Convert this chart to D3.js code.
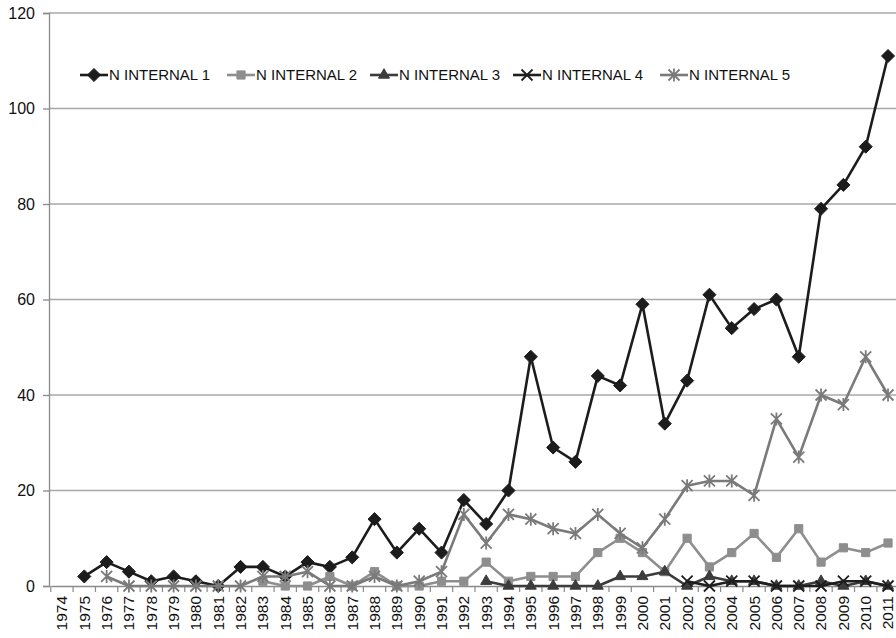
<!DOCTYPE html>
<html>
<head>
<meta charset="utf-8">
<script src="https://cdn.jsdelivr.net/npm/d3@7"></script>
<style>
  body { margin: 0; background: #fff; }
  svg { display: block; font-family: "Liberation Sans", Arial, sans-serif; }
</style>
</head>
<body>
<div id="chart"></div>
<script>
const years = d3.range(1974, 2012).map(String)

// values per year, 1974..2011 (null = no point)
const internal1 = [null, 2, 5, 3, 1, 2, 1, 0, 4, 4, 2, 5, 4, 6, 14, 7, 12, 7, 18, 13, 20, 48, 29, 26, 44, 42, 59, 34, 43, 61, 54, 58, 60, 48, 79, 84, 92, 111]
const internal2 = [null, null, null, null, null, null, null, null, null, 1, 0, 0, 2, 0, 3, 0, 0, 1, 1, 5, 1, 2, 2, 2, 7, 10, 7, 3, 10, 4, 7, 11, 6, 12, 5, 8, 7, 9]
const internal3 = [null, null, null, null, null, null, null, null, null, null, null, null, null, null, null, null, null, null, null, 1, 0, 0, 0, 0, 0, 2, 2, 3, 0, 2, 1, 1, 0, 0, 1, 0, 1, 0]
const internal4 = [null, null, null, null, null, null, null, null, null, null, null, null, null, null, null, null, null, null, null, null, null, null, null, null, null, null, null, null, 1, 0, 1, 1, 0, 0, 0, 1, 1, 0]
const internal5 = [null, null, 2, 0, 0, 0, 0, 0, 0, 2, 2, 3, 0, 0, 2, 0, 1, 3, 15, 9, 15, 14, 12, 11, 15, 11, 8, 14, 21, 22, 22, 19, 35, 27, 40, 38, 48, 40]

const seriesNames = ["N INTERNAL 1", "N INTERNAL 2", "N INTERNAL 3", "N INTERNAL 4", "N INTERNAL 5"]
const yTicks = [0, 20, 40, 60, 80, 100, 120]

const width = 896
const height = 638

const series = [
    {name: seriesNames[0], values: internal1, color: "#1c1c1c", marker: "diamond"},
    {name: seriesNames[1], values: internal2, color: "#8e8e8e", marker: "square"},
    {name: seriesNames[2], values: internal3, color: "#3c3c3c", marker: "triangle"},
    {name: seriesNames[3], values: internal4, color: "#1e1e1e", marker: "x"},
    {name: seriesNames[4], values: internal5, color: "#7a7a7a", marker: "star"}
]

const svg = d3.select("#chart")
    .append("svg")
    .attr("width", width)
    .attr("height", height)

const x = d3.scaleBand()
    .domain(years)
    .range([50.8, 899.2])

const y = d3.scaleLinear()
    .domain([0, 120])
    .range([586, 13])

const cx = d => x(d) + x.bandwidth() / 2

// gridlines
svg.append("g")
    .selectAll("line")
    .data(yTicks.filter(d => d > 0))
    .enter().append("line")
    .attr("x1", 49).attr("x2", width)
    .attr("y1", d => y(d)).attr("y2", d => y(d))
    .attr("stroke", "#a8a8a8")
    .attr("stroke-width", 1.3)

// y axis
const yAxis = svg.append("g")
    .attr("transform", "translate(49,0)")
    .call(d3.axisLeft(y).tickValues(yTicks).tickSize(6).tickPadding(8))
yAxis.select(".domain").attr("stroke", "#8a8a8a").attr("stroke-width", 1.3)
yAxis.selectAll(".tick line").attr("stroke", "#8a8a8a").attr("stroke-width", 1.3)
yAxis.selectAll("text")
    .attr("font-size", 16)
    .attr("fill", "#111")
    .attr("font-family", "\"Liberation Sans\", Arial, sans-serif")

// x axis
const xAxis = svg.append("g")
    .attr("transform", "translate(0,586)")
    .call(d3.axisBottom(x).tickSize(0).tickPadding(0))
xAxis.select(".domain").attr("stroke", "#8a8a8a").attr("stroke-width", 1.3)
xAxis.selectAll("text")
    .attr("font-size", 15.5)
    .attr("fill", "#111")
    .attr("font-family", "\"Liberation Sans\", Arial, sans-serif")
    .attr("transform", "rotate(-90)")
    .attr("text-anchor", "end")
    .attr("dy", "0.35em")
    .attr("x", -10)
    .attr("y", 0)

// category boundary ticks
svg.append("g")
    .selectAll("line")
    .data(years)
    .enter().append("line")
    .attr("x1", d => x(d)).attr("x2", d => x(d))
    .attr("y1", 586).attr("y2", 592)
    .attr("stroke", "#8a8a8a")
    .attr("stroke-width", 1.2)

function markerPath(type, s) {
    if (type === "diamond") return d3.symbol(d3.symbolDiamond2, s * s * 0.9)()
    if (type === "square") return d3.symbol(d3.symbolSquare2, s * s * 0.85)()
    if (type === "triangle") return d3.symbol(d3.symbolTriangle2, s * s * 0.6)()
    if (type === "x") {
        const h = s / 2
        return `M${-h},${-h}L${h},${h}M${-h},${h}L${h},${-h}`
    }
    // star: x plus a vertical bar
    const h = s / 2
    return `M${-h},${-h}L${h},${h}M${-h},${h}L${h},${-h}M0,${-h - 1}L0,${h + 1}`
}

function drawMarker(g, type, color, px, py) {
    const filled = type === "diamond" || type === "square" || type === "triangle"
    const size = type === "square" ? 10 : type === "triangle" ? 12 : 11
    g.append("path")
        .attr("d", markerPath(type, size))
        .attr("transform", `translate(${px},${py})`)
        .attr("fill", filled ? color : "none")
        .attr("stroke", color)
        .attr("stroke-width", filled ? 1 : 1.8)
}

const line = d3.line()
    .defined(d => d.v !== null)
    .x(d => cx(d.year))
    .y(d => y(d.v))

const plot = svg.append("g")

series.forEach(s => {
    const pts = years.map((yr, i) => ({year: yr, v: s.values[i]}))
    const g = plot.append("g")
    g.append("path")
        .datum(pts)
        .attr("d", line)
        .attr("fill", "none")
        .attr("stroke", s.color)
        .attr("stroke-width", 2.6)
        .attr("stroke-linejoin", "round")
    pts.filter(d => d.v !== null).forEach(d => {
        drawMarker(g, s.marker, s.color, cx(d.year), y(d.v))
    })
})

// legend
const legendX = [80, 227, 370, 513, 660]
const legend = svg.append("g")
series.forEach((s, i) => {
    const g = legend.append("g").attr("transform", `translate(${legendX[i]},75)`)
    g.append("line")
        .attr("x1", 0).attr("x2", 28)
        .attr("stroke", s.color)
        .attr("stroke-width", 2.6)
    drawMarker(g, s.marker, s.color, 14, 0)
    g.append("text")
        .attr("x", 29)
        .attr("dy", "0.36em")
        .attr("font-size", 15)
        .attr("fill", "#111")
        .text(s.name)
})
</script>
</body>
</html>
